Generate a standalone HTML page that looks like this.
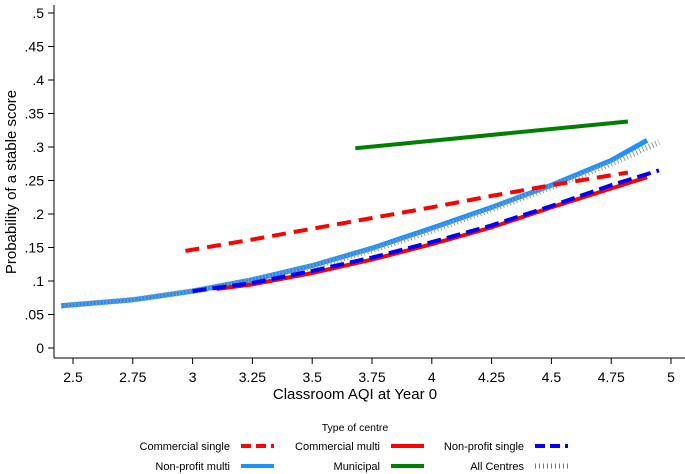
<!DOCTYPE html>
<html><head><meta charset="utf-8"><style>
html,body{margin:0;padding:0;background:#fff;}
svg{display:block;font-family:"Liberation Sans",Arial,sans-serif;}
</style></head><body>
<svg id="chart" width="685" height="474" viewBox="0 0 685 474">
<g id="axes"></g><g id="series"></g><g id="legend"></g>
</svg>
<script>
const xTicks=[2.5,2.75,3,3.25,3.5,3.75,4,4.25,4.5,4.75,5];
const xTickLabels=["2.5","2.75","3","3.25","3.5","3.75","4","4.25","4.5","4.75","5"];
const yTicks=[0,0.05,0.1,0.15,0.2,0.25,0.3,0.35,0.4,0.45,0.5];
const yTickLabels=["0",".05",".1",".15",".2",".25",".3",".35",".4",".45",".5"];
const commSingleX=[2.97,3.25,3.5,3.75,4,4.25,4.5,4.82];
const commSingleY=[0.145,0.162,0.178,0.194,0.21,0.227,0.243,0.262];
const commMultiX=[3.1,3.25,3.5,3.75,4,4.25,4.5,4.75,4.9];
const commMultiY=[0.088,0.095,0.112,0.132,0.155,0.18,0.21,0.238,0.255];
const npSingleX=[3.0,3.25,3.5,3.75,4,4.25,4.5,4.75,4.95];
const npSingleY=[0.085,0.097,0.115,0.135,0.158,0.183,0.212,0.243,0.265];
const npMultiX=[2.45,2.75,3,3.25,3.5,3.75,4,4.25,4.5,4.75,4.9];
const npMultiY=[0.063,0.072,0.085,0.102,0.123,0.149,0.179,0.21,0.243,0.28,0.31];
const municipalX=[3.68,4.82];
const municipalY=[0.298,0.338];
const allX=[2.45,2.75,3,3.25,3.5,3.75,4,4.25,4.5,4.75,4.95];
const allY=[0.063,0.072,0.085,0.101,0.121,0.146,0.175,0.207,0.24,0.275,0.307];

const NS="http://www.w3.org/2000/svg";
const sx=v=>73+(v-2.5)*(671-73)/2.5;
const sy=v=>348-v*(348-13)/0.5;
function el(t,a,p){const e=document.createElementNS(NS,t);for(const k in a)e.setAttribute(k,a[k]);p.appendChild(e);return e;}
const axes=document.getElementById('axes');
const ya=el('line',{x1:54,y1:5,x2:54,y2:358,stroke:'#000','stroke-width':1},axes);


const xa=el('line',{x1:54,y1:358,x2:685,y2:358,stroke:'#000','stroke-width':1},axes);


yTicks.forEach((v,i)=>{
  el('line',{x1:48,x2:54,y1:sy(v),y2:sy(v),stroke:'#000'},axes);
  const t=el('text',{x:44,y:sy(v)+5,'text-anchor':'end','font-size':14},axes);
  t.textContent=yTickLabels[i];
  
  
});
xTicks.forEach((v,i)=>{
  el('line',{x1:sx(v),x2:sx(v),y1:358,y2:364,stroke:'#000'},axes);
  const t=el('text',{x:sx(v),y:382,'text-anchor':'middle','font-size':14},axes);
  t.textContent=xTickLabels[i];
  
  
});
const xt=el('text',{x:355,y:399,'text-anchor':'middle','font-size':15},axes);
xt.textContent='Classroom  AQI at Year 0';


const yt=el('text',{x:0,y:0,'text-anchor':'middle','font-size':15,transform:'translate(16,182) rotate(-90)'},axes);
yt.textContent='Probability of a stable score';



const styles={
 all:{stroke:'#999','stroke-width':6,'stroke-dasharray':'1 2.5',fill:'none'},
 npMulti:{stroke:'#1e90ff','stroke-width':5,fill:'none'},
 commMulti:{stroke:'#ff0000','stroke-width':4,fill:'none'},
 npSingle:{stroke:'#0000ff','stroke-width':4,'stroke-dasharray':'14 6',fill:'none'},
 commSingle:{stroke:'#ff0000','stroke-width':4,'stroke-dasharray':'14 8',fill:'none'},
 municipal:{stroke:'#008000','stroke-width':4,fill:'none'}
};
const ser=document.getElementById('series');
function draw(xs,ys,st,name){
  const d=xs.map((x,i)=>(i?'L':'M')+sx(x).toFixed(1)+','+sy(ys[i]).toFixed(1)).join(' ');
  const p=el('path',Object.assign({d:d},st),ser);
  
  
}
draw(npMultiX,npMultiY,styles.npMulti,'line-non-profit-multi');
draw(allX,allY,styles.all,'line-all-centres');
draw(commMultiX,commMultiY,styles.commMulti,'line-commercial-multi');
draw(npSingleX,npSingleY,styles.npSingle,'line-non-profit-single');
draw(commSingleX,commSingleY,styles.commSingle,'line-commercial-single');
draw(municipalX,municipalY,styles.municipal,'line-municipal');

const lg=document.getElementById('legend');
const lt=el('text',{x:355,y:431,'text-anchor':'middle','font-size':10.5},lg);
lt.textContent='Type of centre';


const entries=[
 ['Commercial single',230,446,styles.commSingle],
 ['Commercial multi',380,446,styles.commMulti],
 ['Non-profit single',524,446,styles.npSingle],
 ['Non-profit multi',230,466,styles.npMulti],
 ['Municipal',380,466,styles.municipal],
 ['All Centres',524,466,styles.all]];
entries.forEach(e=>{
  const g=el('g',{},lg);
  
  
  const t=el('text',{x:e[1],y:e[2]+4,'text-anchor':'end','font-size':11},g);
  t.textContent=e[0];
  const st=Object.assign({},e[3]);
  st['stroke-width']=Math.min(4,st['stroke-width']);
  if(st['stroke-dasharray']==='14 8'||st['stroke-dasharray']==='14 6')st['stroke-dasharray']='10 5';
  if(e[0]==='All Centres'){st['stroke-width']=5;st.stroke='#777';st['stroke-dasharray']='1 3';}
  el('line',Object.assign({x1:e[1]+11,x2:e[1]+44,y1:e[2],y2:e[2]},st),g);
});
</script>
</body></html>
